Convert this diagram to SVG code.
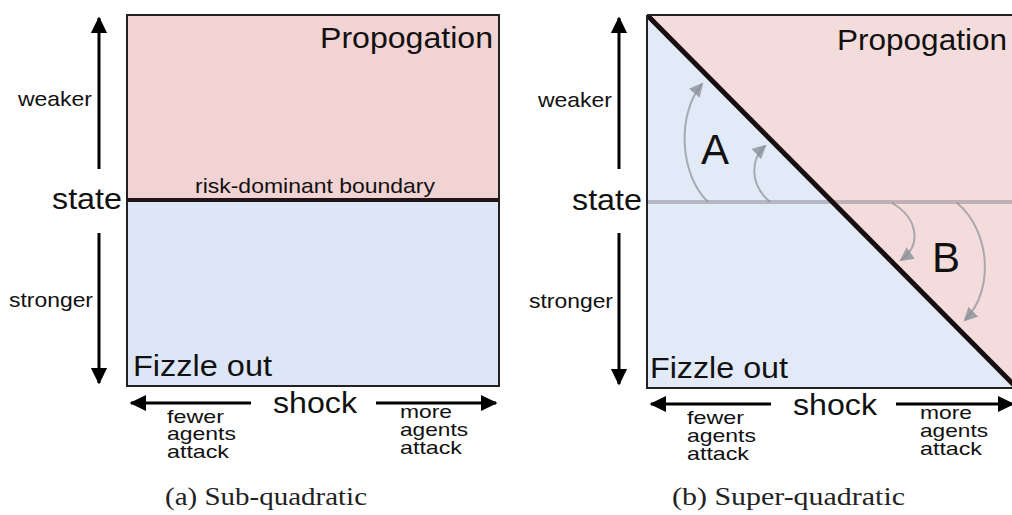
<svg xmlns="http://www.w3.org/2000/svg" width="1012" height="515" viewBox="0 0 1012 515">
<style>
.t{font-family:"Liberation Sans",Arial,sans-serif;fill:#111}
.s{font-size:21px}
.n{font-size:19px}
.m{font-size:29px}
.c{font-family:"Liberation Serif","DejaVu Serif",serif;font-size:25px;fill:#222}
.ax{stroke:#000;stroke-width:3;fill:none}
.g{stroke:#8a9099;stroke-opacity:0.7;stroke-width:2;fill:none}
</style>
<defs>
<marker id="ah" markerWidth="6" markerHeight="6" refX="5" refY="3" orient="auto" markerUnits="strokeWidth">
<path d="M0,0.3 L5.5,3 L0,5.7 Z" fill="#000"/>
</marker>
<marker id="gh" markerWidth="8" markerHeight="8" refX="6" refY="4" orient="auto" markerUnits="strokeWidth">
<path d="M0,0.5 L7,4 L0,7.5 Z" fill="#8a9099" fill-opacity="0.8"/>
</marker>
<clipPath id="cb"><rect x="646" y="14" width="380" height="376"/></clipPath>
</defs>

<!-- Panel a -->
<g id="panel-a">
<g id="a-propagation">
<rect x="127" y="15" width="372" height="185" fill="#f1d3d4"/>
<text class="t m" x="320" y="48" textLength="173" lengthAdjust="spacingAndGlyphs">Propogation</text>
</g>
<g id="a-fizzle">
<rect x="127" y="200" width="372" height="186" fill="#dde6f6"/>
<text class="t m" x="133" y="376" textLength="139" lengthAdjust="spacingAndGlyphs">Fizzle out</text>
</g>
<rect x="127" y="15" width="372" height="371" fill="none" stroke="#222" stroke-width="2"/>
<g id="a-boundary">
<line x1="127" y1="200" x2="499" y2="200" stroke="#221416" stroke-width="4"/>
<text class="t" font-size="21" x="195" y="193" textLength="240" lengthAdjust="spacingAndGlyphs">risk-dominant boundary</text>
</g>
<g id="a-labels">
<text class="t s" x="18" y="106" textLength="74" lengthAdjust="spacingAndGlyphs">weaker</text>
<text class="t" font-size="29" x="52" y="209" textLength="70" lengthAdjust="spacingAndGlyphs">state</text>
<text class="t s" x="9" y="307" textLength="84" lengthAdjust="spacingAndGlyphs">stronger</text>
<text class="t m" x="273" y="413" textLength="84" lengthAdjust="spacingAndGlyphs">shock</text>
<text class="t n" x="167" y="423" textLength="57" lengthAdjust="spacingAndGlyphs">fewer</text>
<text class="t n" x="167" y="440" textLength="69" lengthAdjust="spacingAndGlyphs">agents</text>
<text class="t n" x="167" y="458" textLength="62" lengthAdjust="spacingAndGlyphs">attack</text>
<text class="t n" x="400" y="418" textLength="52" lengthAdjust="spacingAndGlyphs">more</text>
<text class="t n" x="400" y="436" textLength="68" lengthAdjust="spacingAndGlyphs">agents</text>
<text class="t n" x="400" y="454" textLength="62" lengthAdjust="spacingAndGlyphs">attack</text>
<text class="c" x="165" y="505" textLength="202" lengthAdjust="spacingAndGlyphs">(a) Sub-quadratic</text>
</g>
</g>

<!-- Panel b -->
<g id="panel-b">
<g id="b-regions" clip-path="url(#cb)">
<rect x="647" y="15" width="380" height="373" fill="#e3eaf7"/>
<polygon points="647,15 1030,15 1030,388 1017,388" fill="#f4dcdc"/>
<line x1="647" y1="202" x2="1030" y2="202" stroke="#6e6e78" stroke-opacity="0.4" stroke-width="4"/>
<line x1="647" y1="15" x2="1017" y2="388" stroke="#170d0e" stroke-width="5"/>
<polyline points="647,15 1030,15" fill="none" stroke="#222" stroke-width="2"/>
<polyline points="647,15 647,388 1030,388" fill="none" stroke="#222" stroke-width="2"/>
</g>
<g id="b-propagation">
<text class="t m" x="837" y="50" textLength="170" lengthAdjust="spacingAndGlyphs">Propogation</text>
</g>
<g id="b-fizzle">
<text class="t m" x="650" y="378" textLength="138" lengthAdjust="spacingAndGlyphs">Fizzle out</text>
</g>
<g id="b-A">
<text class="t" font-size="42" x="701" y="164">A</text>
</g>
<g id="b-B">
<text class="t" font-size="42" x="932" y="272">B</text>
</g>
<g id="b-labels">
<text class="t s" x="538" y="107" textLength="74" lengthAdjust="spacingAndGlyphs">weaker</text>
<text class="t" font-size="29" x="572" y="210" textLength="70" lengthAdjust="spacingAndGlyphs">state</text>
<text class="t s" x="529" y="308" textLength="84" lengthAdjust="spacingAndGlyphs">stronger</text>
<text class="t m" x="793" y="415" textLength="84" lengthAdjust="spacingAndGlyphs">shock</text>
<text class="t n" x="687" y="424" textLength="57" lengthAdjust="spacingAndGlyphs">fewer</text>
<text class="t n" x="687" y="442" textLength="69" lengthAdjust="spacingAndGlyphs">agents</text>
<text class="t n" x="687" y="460" textLength="62" lengthAdjust="spacingAndGlyphs">attack</text>
<text class="t n" x="920" y="419" textLength="52" lengthAdjust="spacingAndGlyphs">more</text>
<text class="t n" x="920" y="437" textLength="68" lengthAdjust="spacingAndGlyphs">agents</text>
<text class="t n" x="920" y="455" textLength="62" lengthAdjust="spacingAndGlyphs">attack</text>
<text class="c" x="672" y="505" textLength="233" lengthAdjust="spacingAndGlyphs">(b) Super-quadratic</text>
</g>
</g>

<!-- Connectors -->
<g id="connectors">
<line class="ax" x1="99" y1="169" x2="99" y2="18" marker-end="url(#ah)"/>
<line class="ax" x1="99" y1="233" x2="99" y2="383" marker-end="url(#ah)"/>
<line class="ax" x1="251" y1="403" x2="131" y2="403" marker-end="url(#ah)"/>
<line class="ax" x1="376" y1="403" x2="496" y2="403" marker-end="url(#ah)"/>
<line class="ax" x1="619" y1="169" x2="619" y2="18" marker-end="url(#ah)"/>
<line class="ax" x1="619" y1="233" x2="619" y2="384" marker-end="url(#ah)"/>
<line class="ax" x1="771" y1="404" x2="651" y2="404" marker-end="url(#ah)"/>
<line class="ax" x1="896" y1="404" x2="1013" y2="404" marker-end="url(#ah)"/>
<path class="g" d="M708,202 C680,175 676,115 702,84" marker-end="url(#gh)"/>
<path class="g" d="M770,202 C750,185 750,160 765,146" marker-end="url(#gh)"/>
<path class="g" d="M892,203 C918,218 922,245 901,260" marker-end="url(#gh)"/>
<path class="g" d="M957,203 C990,230 995,290 965,320" marker-end="url(#gh)"/>
</g>
</svg>
